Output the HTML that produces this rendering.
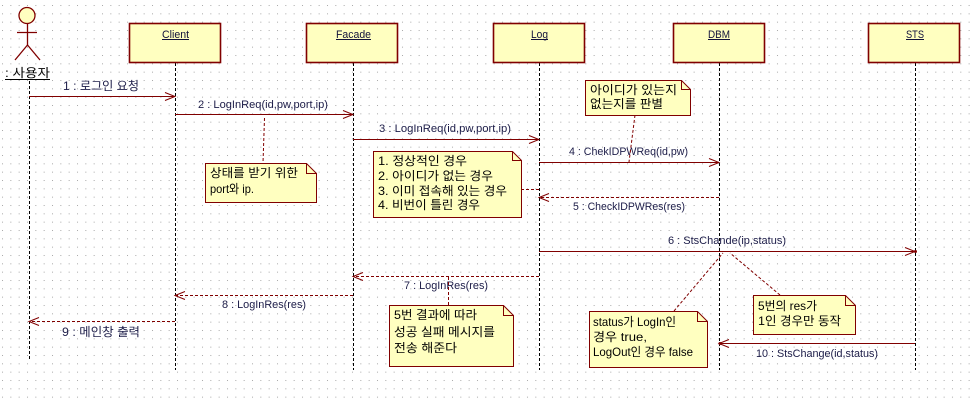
<!DOCTYPE html>
<html><head><meta charset="utf-8"><style>
html,body{margin:0;padding:0;background:#fff;}
svg{display:block;}
text{font-family:"Liberation Sans","Noto Sans CJK KR",sans-serif;}
</style></head><body>
<svg width="970" height="403" viewBox="0 0 970 403" xmlns="http://www.w3.org/2000/svg">
<defs>
<pattern id="g" x="2" y="5" width="8.333" height="8.333" patternUnits="userSpaceOnUse">
<rect x="0" y="0" width="1" height="1" fill="#a8a8a8"/>
</pattern>
</defs>
<rect width="970" height="403" fill="#fff"/>
<rect width="970" height="403" fill="url(#g)"/>

<!-- lifelines -->
<g stroke="#000" stroke-width="1" stroke-dasharray="3,2" fill="none">
<line x1="29.5" y1="81" x2="29.5" y2="360"/>
<line x1="175.5" y1="63" x2="175.5" y2="370"/>
<line x1="353.5" y1="63" x2="353.5" y2="370"/>
<line x1="539.5" y1="63" x2="539.5" y2="370"/>
<line x1="719.5" y1="63" x2="719.5" y2="370"/>
<line x1="915.5" y1="63" x2="915.5" y2="370"/>
</g>

<!-- actor -->
<g stroke="#800000" stroke-width="1.3" fill="none">
<circle cx="27" cy="15.5" r="8" fill="#ffffc0"/>
<line x1="27.5" y1="24" x2="27.5" y2="45"/>
<line x1="17" y1="32.5" x2="37" y2="32.5"/>
<line x1="27.5" y1="45" x2="15" y2="60"/>
<line x1="27.5" y1="45" x2="40" y2="60"/>
</g>
<text x="5" y="77" font-size="12" fill="#000" textLength="45" lengthAdjust="spacingAndGlyphs">: 사용자</text>
<line x1="5" y1="79.5" x2="50" y2="79.5" stroke="#000" stroke-width="1"/>

<!-- object boxes -->
<g fill="#ffffc0" stroke="#800000" stroke-width="1.6">
<rect x="129.5" y="23.5" width="91" height="39"/>
<rect x="306.5" y="23.5" width="91" height="39"/>
<rect x="493.5" y="23.5" width="91" height="39"/>
<rect x="673.5" y="23.5" width="91" height="39"/>
<rect x="868.5" y="23.5" width="91" height="39"/>
</g>
<g font-size="11" fill="#10103a">
<text x="162" y="38" textLength="27" lengthAdjust="spacingAndGlyphs">Client</text>
<text x="336" y="38" textLength="35" lengthAdjust="spacingAndGlyphs">Facade</text>
<text x="531" y="38" textLength="17" lengthAdjust="spacingAndGlyphs">Log</text>
<text x="708" y="38" textLength="22" lengthAdjust="spacingAndGlyphs">DBM</text>
<text x="906" y="38" textLength="18" lengthAdjust="spacingAndGlyphs">STS</text>
</g>
<g stroke="#10103a" stroke-width="1">
<line x1="162" y1="39.5" x2="189" y2="39.5"/>
<line x1="336" y1="39.5" x2="371" y2="39.5"/>
<line x1="531" y1="39.5" x2="548" y2="39.5"/>
<line x1="708" y1="39.5" x2="730" y2="39.5"/>
<line x1="906" y1="39.5" x2="924" y2="39.5"/>
</g>

<!-- messages -->
<g stroke="#800000" stroke-width="1" fill="none">
<line x1="29" y1="96.5" x2="175" y2="96.5"/><polyline points="165,92.5 175,96.5 165,100.5"/>
<line x1="175" y1="114.5" x2="353" y2="114.5"/><polyline points="343,110.5 353,114.5 343,118.5"/>
<line x1="353" y1="139.5" x2="539" y2="139.5"/><polyline points="529,135.5 539,139.5 529,143.5"/>
<line x1="539" y1="162.5" x2="719" y2="162.5"/><polyline points="709,158.5 719,162.5 709,166.5"/>
<line x1="719" y1="197.5" x2="539" y2="197.5" stroke-dasharray="3,2"/><polyline points="549,193.5 539,197.5 549,201.5"/>
<line x1="539" y1="251.5" x2="915" y2="251.5"/><polyline points="905,247.5 915,251.5 905,255.5"/>
<line x1="539" y1="276.5" x2="353" y2="276.5" stroke-dasharray="3,2"/><polyline points="363,272.5 353,276.5 363,280.5"/>
<line x1="353" y1="295.5" x2="175" y2="295.5" stroke-dasharray="3,2"/><polyline points="185,291.5 175,295.5 185,299.5"/>
<line x1="175" y1="321.5" x2="29" y2="321.5" stroke-dasharray="3,2"/><polyline points="39,317.5 29,321.5 39,325.5"/>
<line x1="915" y1="343.5" x2="719" y2="343.5"/><polyline points="729,339.5 719,343.5 729,347.5"/>
</g>
<g fill="#800000">
<circle cx="915.5" cy="251.5" r="1.5"/>
<circle cx="720" cy="343.5" r="1.5"/>
</g>
<g font-size="11" fill="#1c1c48">
<text x="63" y="90" font-size="12" textLength="76" lengthAdjust="spacingAndGlyphs">1 : 로그인 요청</text>
<text x="198" y="108" textLength="130" lengthAdjust="spacingAndGlyphs">2 : LogInReq(id,pw,port,ip)</text>
<text x="379" y="132" textLength="132" lengthAdjust="spacingAndGlyphs">3 : LogInReq(id,pw,port,ip)</text>
<text x="569" y="155" textLength="119" lengthAdjust="spacingAndGlyphs">4 : ChekIDPWReq(id,pw)</text>
<text x="573" y="210" textLength="112" lengthAdjust="spacingAndGlyphs">5 : CheckIDPWRes(res)</text>
<text x="668" y="244" textLength="118" lengthAdjust="spacingAndGlyphs">6 : StsChande(ip,status)</text>
<text x="404" y="289" textLength="84" lengthAdjust="spacingAndGlyphs">7 : LogInRes(res)</text>
<text x="222" y="308" textLength="84" lengthAdjust="spacingAndGlyphs">8 : LogInRes(res)</text>
<text x="62" y="336" font-size="12" textLength="78" lengthAdjust="spacingAndGlyphs">9 : 메인창 출력</text>
<text x="756" y="357" textLength="122" lengthAdjust="spacingAndGlyphs">10 : StsChange(id,status)</text>
</g>

<!-- note connectors -->
<g stroke="#800000" stroke-width="1" stroke-dasharray="3,2" fill="none">
<line x1="264.5" y1="118" x2="263" y2="163"/>
<line x1="521" y1="189.5" x2="539" y2="189.5"/>
<line x1="635" y1="115" x2="629" y2="162"/>
<line x1="674" y1="311" x2="723" y2="253"/>
<line x1="780" y1="295" x2="730" y2="253"/>
<line x1="448.5" y1="277" x2="448.5" y2="305"/>
</g>

<!-- notes -->
<g fill="#ffffc0" stroke="#800000" stroke-width="1">
<polygon points="205.5,163.5 306.5,163.5 316.5,173.5 316.5,202.5 205.5,202.5"/>
<polyline fill="none" points="306.5,163.5 306.5,173.5 316.5,173.5"/>
<polygon points="373.5,151.5 512.5,151.5 521.5,160.5 521.5,217.5 373.5,217.5"/>
<polyline fill="none" points="512.5,151.5 512.5,160.5 521.5,160.5"/>
<polygon points="585.5,80.5 681.5,80.5 690.5,89.5 690.5,115.5 585.5,115.5"/>
<polyline fill="none" points="681.5,80.5 681.5,89.5 690.5,89.5"/>
<polygon points="589.5,311.5 697.5,311.5 707.5,321.5 707.5,367.5 589.5,367.5"/>
<polyline fill="none" points="697.5,311.5 697.5,321.5 707.5,321.5"/>
<polygon points="753.5,295.5 845.5,295.5 855.5,305.5 855.5,334.5 753.5,334.5"/>
<polyline fill="none" points="845.5,295.5 845.5,305.5 855.5,305.5"/>
<polygon points="389.5,305.5 503.5,305.5 513.5,315.5 513.5,366.5 389.5,366.5"/>
<polyline fill="none" points="503.5,305.5 503.5,315.5 513.5,315.5"/>
</g>
<g font-size="12" fill="#000">
<text x="210" y="177" textLength="88" lengthAdjust="spacingAndGlyphs">상태를 받기 위한</text>
<text x="210" y="193" textLength="44" lengthAdjust="spacingAndGlyphs">port와 ip.</text>

<text x="378" y="165" textLength="89" lengthAdjust="spacingAndGlyphs">1. 정상적인 경우</text>
<text x="378" y="180" textLength="115" lengthAdjust="spacingAndGlyphs">2. 아이디가 없는 경우</text>
<text x="378" y="195" textLength="129" lengthAdjust="spacingAndGlyphs">3. 이미 접속해 있는 경우</text>
<text x="378" y="209" textLength="102" lengthAdjust="spacingAndGlyphs">4. 비번이 틀린 경우</text>

<text x="590" y="94" textLength="87" lengthAdjust="spacingAndGlyphs">아이디가 있는지</text>
<text x="590" y="108" textLength="73" lengthAdjust="spacingAndGlyphs">없는지를 판별</text>

<text x="593" y="326" textLength="83" lengthAdjust="spacingAndGlyphs">status가 LogIn인</text>
<text x="593" y="341" textLength="54" lengthAdjust="spacingAndGlyphs">경우  true,</text>
<text x="593" y="356" textLength="100" lengthAdjust="spacingAndGlyphs">LogOut인 경우 false</text>

<text x="758" y="310" textLength="59" lengthAdjust="spacingAndGlyphs">5번의 res가</text>
<text x="758" y="325" textLength="83" lengthAdjust="spacingAndGlyphs">1인 경우만 동작</text>

<text x="394" y="319" textLength="83" lengthAdjust="spacingAndGlyphs">5번 결과에 따라</text>
<text x="394" y="336" textLength="101" lengthAdjust="spacingAndGlyphs">성공 실패 메시지를</text>
<text x="394" y="352" textLength="63" lengthAdjust="spacingAndGlyphs">전송 해준다</text>
</g>
</svg>
</body></html>
